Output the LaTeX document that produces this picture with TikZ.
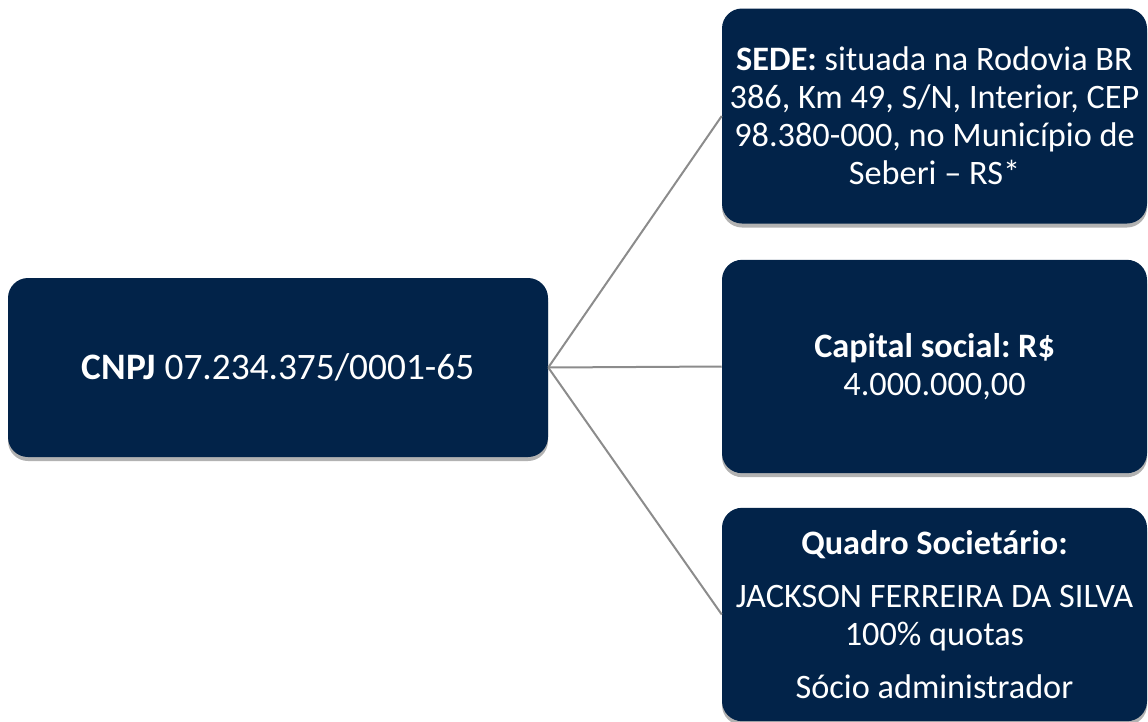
\documentclass[tikz,border=0pt]{standalone}
\usepackage{fontspec}
\setmainfont{Carlito}
\usetikzlibrary{shadows}
\definecolor{navy}{HTML}{022349}
\definecolor{linkgray}{HTML}{8C8C8C}
\frenchspacing
\begin{document}
\begin{tikzpicture}[x=0.75pt,y=-0.75pt,
  box/.style={fill=navy,text=white,rounded corners=15pt,align=center,
    inner sep=4pt,
    drop shadow={shadow xshift=0pt,shadow yshift=-3pt,opacity=0.3,fill=black}},
  leftbox/.style={box,font=\fontsize{28}{33}\selectfont,
    minimum width=405pt,minimum height=134.25pt},
  rightbox/.style={box,font=\fontsize{25.7}{28.5}\selectfont,
    minimum width=318.75pt,minimum height=160pt},
  link/.style={draw=linkgray,line width=1.5pt}]
\useasboundingbox (0,0) rectangle (1148,721);
\node[leftbox] (cnpj) at (278,367.5) {\textbf{CNPJ} 07.234.375/0001-65};
\node[rightbox,minimum height=161.25pt] (sede) at (934.5,116)
  {\textbf{SEDE:} situada na Rodovia BR\\386, Km 49, S/N, Interior, CEP\\98.380-000, no Município de\\Seberi -- RS*};
\node[rightbox] (capital) at (934.5,366.5)
  {\textbf{Capital social: R\$}\\4.000.000,00};
\node[rightbox] (quadro) at (934.5,614.5)
  {\textbf{Quadro Societário:}\\[11.5pt]JACKSON FERREIRA DA SILVA\\100\% quotas\\[11.5pt]Sócio administrador};
% ligacoes
\draw[link] (cnpj.east) -- (sede.west);
\draw[link] (cnpj.east) -- (capital.west);
\draw[link] (cnpj.east) -- (quadro.west);
\end{tikzpicture}
\end{document}
